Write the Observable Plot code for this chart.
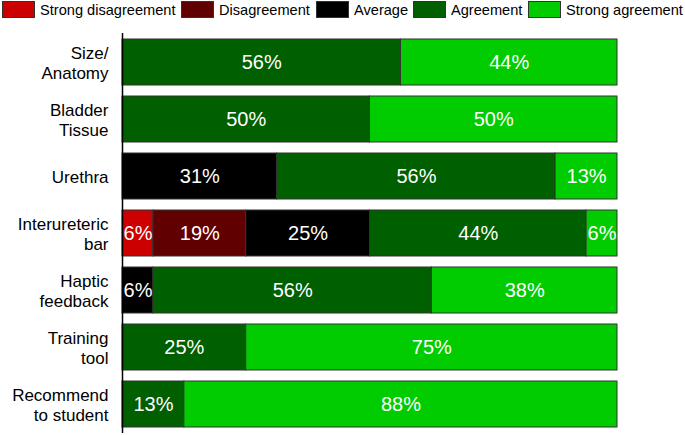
<!DOCTYPE html>
<html>
<head>
<meta charset="utf-8">
<script src="https://cdn.jsdelivr.net/npm/d3@7"></script>
<script src="https://cdn.jsdelivr.net/npm/@observablehq/plot@0.6"></script>
<style>
  body { margin: 0; background: #fff; font-family: "Liberation Sans", Arial, sans-serif; }
  #legend { position: relative; height: 22px; font-size: 14.6px; color: #000; white-space: nowrap; }
  .item { position: absolute; top: 0; display: flex; align-items: center; height: 20px; }
  .sw { width: 33px; height: 17px; border: 1px solid #333; box-sizing: border-box; margin-right: 5px; margin-top: -2px; }
  #chart svg { display: block; }
</style>
</head>
<body>
<div id="legend"></div>
<div id="chart"></div>
<script>
const categories = ["Size/\nAnatomy", "Bladder\nTissue", "Urethra", "Interureteric\nbar", "Haptic\nfeedback", "Training\ntool", "Recommend\nto student"];
const levels = ["Strong disagreement", "Disagreement", "Average", "Agreement", "Strong agreement"];
const colors = ["#cc0000", "#600000", "#000000", "#006000", "#00cc00"];

const strongDisagreement = [0, 0, 0, 6.25, 0, 0, 0];
const disagreement       = [0, 0, 0, 18.75, 0, 0, 0];
const average            = [0, 0, 31.25, 25, 6.25, 0, 0];
const agreement          = [56.25, 50, 56.25, 43.75, 56.25, 25, 12.5];
const strongAgreement    = [43.75, 50, 12.5, 6.25, 37.5, 75, 87.5];

const series = [strongDisagreement, disagreement, average, agreement, strongAgreement];
const data = [];
categories.forEach((c, i) => {
  series.forEach((s, j) => {
    if (s[i] > 0) data.push({cat: c, level: levels[j], value: s[i]});
  });
});

const legendLeft = [2, 181, 316, 413, 528];
const legend = document.getElementById("legend");
levels.forEach((l, j) => {
  const it = document.createElement("div");
  it.className = "item";
  it.style.left = legendLeft[j] + "px";
  const sw = document.createElement("div");
  sw.className = "sw";
  sw.style.background = colors[j];
  const t = document.createElement("span");
  t.textContent = l;
  it.appendChild(sw); it.appendChild(t);
  legend.appendChild(it);
});

const chart = Plot.plot({
  width: 685,
  height: 413,
  marginTop: 11,
  marginBottom: 2,
  marginLeft: 122,
  marginRight: 68,
  style: {fontFamily: "Liberation Sans, Arial, sans-serif", background: "#fff"},
  x: {domain: [0, 100], axis: null},
  y: {domain: categories, paddingInner: 0.19, paddingOuter: 0.1, label: null},
  color: {domain: levels, range: colors},
  marks: [
    Plot.barX(data, Plot.stackX({x: "value", y: "cat", fill: "level", order: levels, stroke: "#333", strokeWidth: 1})),
    Plot.text(data, Plot.stackX({x: "value", y: "cat", z: "level", order: levels, text: d => Math.round(d.value) + "%", fill: "white", fontSize: 20})),
    Plot.axisY({tickSize: 0, tickPadding: 14, fontSize: 17, lineHeight: 1.18, label: null, fill: "#000"}),
    Plot.ruleX([0], {stroke: "#000", strokeWidth: 1.5})
  ]
});
document.getElementById("chart").appendChild(chart);
</script>
</body>
</html>
